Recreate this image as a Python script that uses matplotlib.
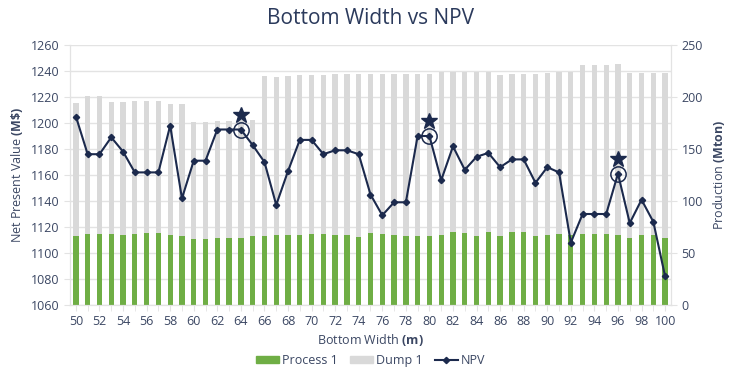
import matplotlib
matplotlib.use("Agg")
import matplotlib.pyplot as plt
from matplotlib.ticker import MultipleLocator
from matplotlib.patches import Patch
from matplotlib.lines import Line2D
import matplotlib.transforms as mtransforms

plt.rcParams['font.family'] = ['Open Sans', 'DejaVu Sans']
plt.rcParams['mathtext.fontset'] = 'custom'
plt.rcParams['mathtext.rm'] = 'Open Sans'
plt.rcParams['mathtext.bf'] = 'Open Sans:bold'

width = list(range(50, 101))
npv = [1205, 1176, 1176, 1189, 1178, 1162, 1162, 1162, 1198, 1142,
       1171, 1171, 1195, 1195, 1195, 1183, 1170, 1137, 1163, 1187,
       1187, 1176, 1179, 1179, 1176, 1145, 1129, 1139, 1139, 1190,
       1190, 1156, 1182, 1164, 1174, 1177, 1166, 1172, 1172, 1154,
       1166, 1162, 1108, 1130, 1130, 1130, 1161, 1123, 1141, 1124, 1082]
process1 = [66.7, 67.9, 67.9, 68.3, 67.6, 68.6, 68.9, 68.9, 67.3, 66.3,
            63.7, 63.7, 64.7, 64.7, 64.7, 66.3, 66.7, 67.6, 67.0, 67.6,
            67.9, 67.9, 67.0, 67.3, 65.1, 69.2, 68.3, 67.0, 66.7, 66.7,
            66.7, 67.3, 70.5, 69.2, 66.0, 70.2, 66.5, 69.9, 69.9, 66.0,
            67.7, 67.9, 67.6, 67.9, 67.9, 67.9, 67.3, 64.7, 67.3, 67.3, 64.7]
total = [194.6, 201.3, 201.3, 195.2, 195.5, 196.2, 196.2, 196.2, 192.9, 193.5,
         176.3, 176.3, 176.9, 176.9, 177.5, 177.9, 220.5, 219.6, 220.2, 221.2,
         221.2, 221.2, 222.1, 222.1, 221.8, 221.8, 222.1, 222.1, 222.1, 221.8,
         221.8, 223.7, 224.4, 224.4, 224.4, 224.4, 221.2, 222.1, 222.1, 222.1,
         223.1, 223.7, 223.7, 231.1, 231.1, 231.1, 231.7, 223.4, 222.8, 222.8, 222.8]
dump1 = [t - p for t, p in zip(total, process1)]
highlight = [64, 80, 96]

navy = '#1c2a4d'
text_c = '#3b4763'
green = '#6fae45'
grey = '#d9d9d9'
gridc = '#e3e3e3'

fig = plt.figure(figsize=(7.46, 3.84), dpi=100)
ax2 = fig.add_axes([70/746, 1-305/384, (671-70)/746, 260/384])
ax1 = ax2.twinx()
ax1.yaxis.set_label_position('left')
ax1.yaxis.tick_left()
ax2.yaxis.set_label_position('right')
ax2.yaxis.tick_right()
ax1.set_zorder(ax2.get_zorder() + 1)
ax1.patch.set_visible(False)

ax2.bar(width, process1, width=0.45, color=green, zorder=2)
ax2.bar(width, dump1, bottom=process1, width=0.45, color=grey, zorder=2)
ax2.set_ylim(0, 250)
ax2.yaxis.set_major_locator(MultipleLocator(50))
ax2.yaxis.set_minor_locator(MultipleLocator(25))
ax2.grid(True, which='both', axis='y', color=gridc, linewidth=1, zorder=0)
ax2.set_axisbelow(True)

ax1.plot(width, npv, color=navy, linewidth=1.5, marker='D', markersize=3.2, zorder=3)
hx = highlight
hy = [npv[width.index(h)] for h in highlight]
ax1.plot(hx, hy, linestyle='none', marker='o', markersize=11, markerfacecolor='none',
         markeredgecolor=navy, markeredgewidth=1.1, zorder=4)
off = mtransforms.offset_copy(ax1.transData, fig=fig, x=0, y=10.5, units='points')
ax1.plot(hx, hy, linestyle='none', marker='*', markersize=12, color=navy,
         transform=off, zorder=4)
ax1.set_ylim(1060, 1260)
ax1.yaxis.set_major_locator(MultipleLocator(20))

for ax in (ax1, ax2):
    ax.set_xlim(49.5, 100.5)
    ax.spines['top'].set_visible(False)
    for s in ('left', 'right', 'bottom'):
        ax.spines[s].set_color(gridc)
ax2.xaxis.set_major_locator(MultipleLocator(2))
ax2.xaxis.set_minor_locator(MultipleLocator(1))
ax2.tick_params(axis='x', which='major', colors=gridc, labelcolor=text_c, labelsize=9, length=4, pad=3)
ax2.tick_params(axis='x', which='minor', colors=gridc, length=4)
ax2.tick_params(axis='y', which='major', colors=gridc, labelcolor=text_c, labelsize=9, length=4)
ax2.tick_params(axis='y', which='minor', length=0)
ax1.tick_params(axis='y', colors=gridc, labelcolor=text_c, labelsize=9, length=4)

ax2.set_xlabel(r'Bottom Width $\bf{(m)}$', color=text_c, fontsize=9, labelpad=3)
ax1.set_ylabel(r'Net Present Value $\bf{(M\$)}$', color=text_c, fontsize=9, labelpad=4)
ax2.set_ylabel(r'Production $\bf{(Mton)}$', color=text_c, fontsize=9, labelpad=6)

fig.text(0.497, 0.952, 'Bottom Width vs NPV', ha='center', va='center', fontsize=15, color='#2b3a5c')

handles = [Patch(color=green, label='Process 1'), Patch(color=grey, label='Dump 1'),
           Line2D([], [], color=navy, marker='D', markersize=3.2, linewidth=1.5, label='NPV')]
fig.legend(handles=handles, loc='center', bbox_to_anchor=(0.497, 0.062), ncol=3, frameon=False,
           fontsize=9, labelcolor=text_c, handlelength=1.8, handleheight=0.55, columnspacing=1.0,
           handletextpad=0.25)

fig.savefig('out.png', dpi=100)
